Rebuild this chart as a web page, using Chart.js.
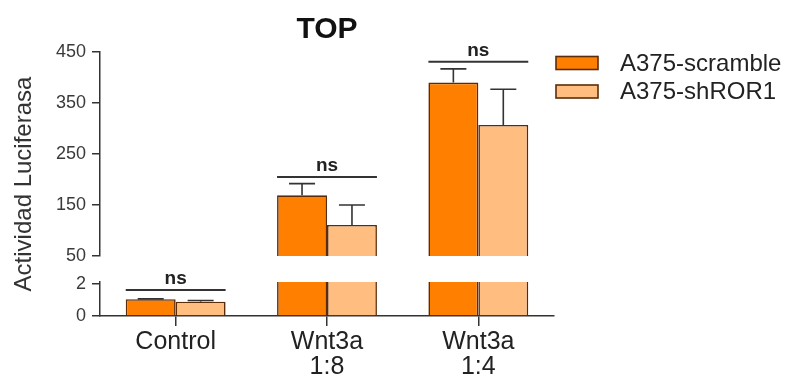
<!DOCTYPE html>
<html>
<head>
<meta charset="utf-8">
<title>TOP</title>
<script src="https://cdn.jsdelivr.net/npm/chart.js@4.4.1/dist/chart.umd.min.js"></script>
<style>
  html, body { margin: 0; padding: 0; background: #ffffff; }
  #wrap { width: 799px; height: 374px; }
</style>
</head>
<body>
<div id="wrap"><canvas id="chart" width="799" height="374"></canvas></div>
<script>
// Luciferase reporter activity (TOPflash), mean and SD per condition
const categories = ['Control', ['Wnt3a', '1:8'], ['Wnt3a', '1:4']];
const seriesNames = ['A375-scramble', 'A375-shROR1'];
const scrambleMean = [1.04, 169, 390];
const scrambleSD = [0.02, 23, 27];
const shror1Mean = [0.88, 111, 307];
const shror1SD = [0.08, 39, 70];

// broken value axis: upper segment and lower segment
const upperTicks = [50, 150, 250, 350, 450];
const lowerTicks = [0, 2];

// significance brackets over each group
const sigLabels = ['ns', 'ns', 'ns'];
const sigLevels = [1.6, 205, 431];

const FONT = '"Liberation Sans", Arial, Helvetica, sans-serif';
const INK = '#333333';
const EDGE = '#5a2c0a';
const COLORS = ['#ff7f00', '#ffbd80'];

function segmentScale(chart, v) {
  return v >= chart.scales.yTop.min ? chart.scales.yTop : chart.scales.yBottom;
}

// each dataset is drawn only inside the band of its own value axis
const segmentClip = {
  id: 'segmentClip',
  beforeDatasetDraw(chart, args) {
    const ys = chart.scales[args.meta.yAxisID];
    const a = chart.chartArea;
    const ctx = chart.ctx;
    ctx.save();
    ctx.beginPath();
    ctx.rect(a.left, ys.top, a.right - a.left, ys.bottom - ys.top);
    ctx.clip();
  },
  afterDatasetDraw(chart) {
    chart.ctx.restore();
  }
};

const annotations = {
  id: 'annotations',
  afterDatasetsDraw(chart) {
    const ctx = chart.ctx;
    ctx.save();
    ctx.strokeStyle = INK;
    ctx.lineWidth = 1.6;
    // error bars (upper SD only)
    [[scrambleMean, scrambleSD, 0], [shror1Mean, shror1SD, 1]].forEach(([mean, sd, di]) => {
      const meta = chart.getDatasetMeta(di);
      mean.forEach((v, i) => {
        const s = segmentScale(chart, v);
        const x = meta.data[i].x;
        const y0 = s.getPixelForValue(v);
        const y1 = s.getPixelForValue(v + sd[i]);
        ctx.beginPath();
        ctx.moveTo(x, y0);
        ctx.lineTo(x, y1);
        ctx.moveTo(x - 13, y1);
        ctx.lineTo(x + 13, y1);
        ctx.stroke();
      });
    });
    // significance lines and labels
    ctx.lineWidth = 2;
    ctx.fillStyle = '#222';
    ctx.font = 'bold 19px ' + FONT;
    ctx.textAlign = 'center';
    ctx.textBaseline = 'alphabetic';
    sigLevels.forEach((lv, i) => {
      const s = segmentScale(chart, lv);
      const y = s.getPixelForValue(lv);
      const b0 = chart.getDatasetMeta(0).data[i];
      const b1 = chart.getDatasetMeta(1).data[i];
      const xl = b0.x - b0.width / 2;
      const xr = b1.x + b1.width / 2;
      ctx.beginPath();
      ctx.moveTo(xl, y);
      ctx.lineTo(xr, y);
      ctx.stroke();
      ctx.fillText(sigLabels[i], (xl + xr) / 2, y - 6);
    });
    ctx.restore();
  },
  afterDraw(chart) {
    const ctx = chart.ctx;
    const a = chart.chartArea;
    ctx.save();
    // value axis title, centred on the whole broken axis
    ctx.translate(24, (a.top + a.bottom) / 2);
    ctx.rotate(-Math.PI / 2);
    ctx.fillStyle = INK;
    ctx.font = '24px ' + FONT;
    ctx.textAlign = 'center';
    ctx.textBaseline = 'middle';
    ctx.fillText('Actividad Luciferasa', 0, 0);
    ctx.restore();

    // legend
    ctx.save();
    ctx.font = '24px ' + FONT;
    ctx.textAlign = 'left';
    ctx.textBaseline = 'middle';
    seriesNames.forEach((name, i) => {
      const cy = 63 + i * 28.5;
      ctx.fillStyle = COLORS[i];
      ctx.fillRect(556, cy - 6.5, 42, 13);
      ctx.strokeStyle = EDGE;
      ctx.lineWidth = 1.6;
      ctx.strokeRect(556, cy - 6.5, 42, 13);
      ctx.fillStyle = '#222';
      ctx.fillText(name, 620, cy + 1);
    });
    ctx.restore();
  }
};

function barSet(label, data, color, axis) {
  return {
    label: label,
    data: data,
    yAxisID: axis,
    stack: label,
    backgroundColor: color,
    borderColor: EDGE,
    borderWidth: 1.6,
    borderSkipped: 'start',
    categoryPercentage: 0.66,
    barPercentage: 1.0
  };
}

new Chart(document.getElementById('chart'), {
  type: 'bar',
  data: {
    labels: categories,
    datasets: [
      barSet(seriesNames[0], scrambleMean, COLORS[0], 'yTop'),
      barSet(seriesNames[1], shror1Mean, COLORS[1], 'yTop'),
      barSet(seriesNames[0], scrambleMean, COLORS[0], 'yBottom'),
      barSet(seriesNames[1], shror1Mean, COLORS[1], 'yBottom')
    ]
  },
  options: {
    responsive: false,
    animation: false,
    layout: { padding: { top: 12, right: 245, bottom: 0, left: 0 } },
    plugins: {
      legend: { display: false },
      tooltip: { enabled: false },
      title: {
        display: true,
        text: 'TOP',
        fullSize: false,
        color: '#111',
        font: { family: FONT, size: 30, weight: 'bold' },
        padding: { top: 0, bottom: 4 }
      }
    },
    scales: {
      x: {
        type: 'category',
        stacked: true,
        offset: true,
        grid: { display: true, drawOnChartArea: false, drawTicks: true, tickLength: 10, offset: false, color: INK, lineWidth: 1.5 },
        border: { display: true, color: INK, width: 1.5 },
        ticks: { color: '#222', font: { family: FONT, size: 25, lineHeight: 1 }, padding: 4, maxRotation: 0, autoSkip: false },
        afterFit(s) { s.height = 58; }
      },
      yTop: {
        type: 'linear', position: 'left', stack: 'value', stackWeight: 204, weight: 3,
        min: 50, max: 450, stacked: false,
        afterBuildTicks(s) { s.ticks = upperTicks.map(v => ({ value: v })); },
        grid: { drawOnChartArea: false, tickLength: 8, color: INK, lineWidth: 1.5 },
        border: { display: true, color: INK, width: 1.5 },
        ticks: { color: '#3a3a3a', font: { family: FONT, size: 18 }, padding: 6, autoSkip: false },
        afterFit(s) { s.width = 100; }
      },
      yGap: {
        type: 'linear', position: 'left', stack: 'value', stackWeight: 26, weight: 2,
        min: 0, max: 1,
        grid: { display: false },
        border: { display: false },
        ticks: { display: false },
        afterFit(s) { s.width = 100; }
      },
      yBottom: {
        type: 'linear', position: 'left', stack: 'value', stackWeight: 34, weight: 1,
        min: 0, max: 2.1, stacked: false,
        afterBuildTicks(s) { s.ticks = lowerTicks.map(v => ({ value: v })); },
        grid: { drawOnChartArea: false, tickLength: 8, color: INK, lineWidth: 1.5 },
        border: { display: true, color: INK, width: 1.5 },
        ticks: { color: '#3a3a3a', font: { family: FONT, size: 18 }, padding: 6, autoSkip: false },
        afterFit(s) { s.width = 100; }
      }
    }
  },
  plugins: [segmentClip, annotations]
});
</script>
</body>
</html>
